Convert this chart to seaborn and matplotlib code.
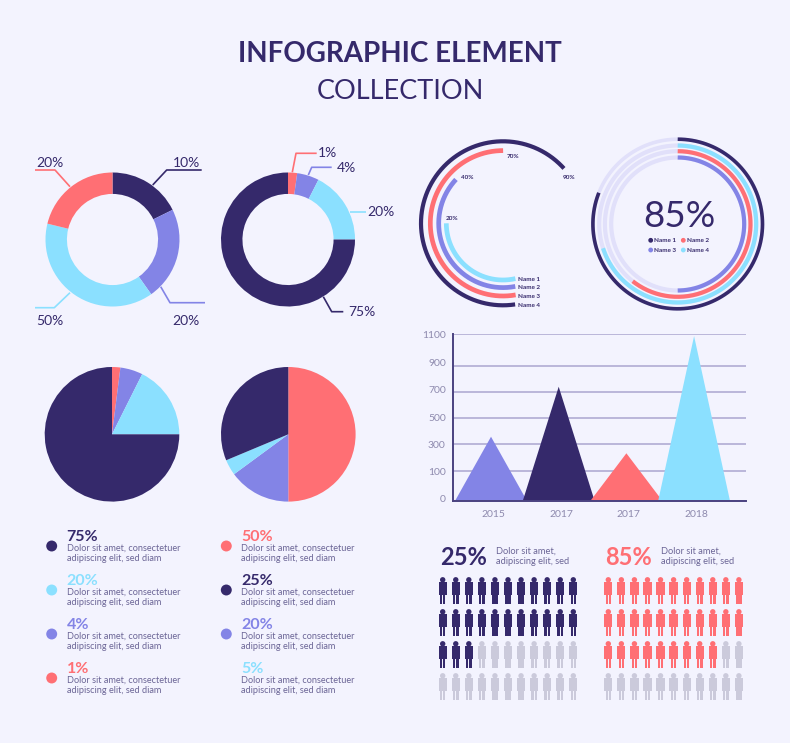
import matplotlib
matplotlib.use("Agg")
import matplotlib.pyplot as plt
from matplotlib.patches import Rectangle, Circle
from matplotlib.transforms import ScaledTranslation
import numpy as np
import pandas as pd
import seaborn as sns

W, H = 790, 743
BG = "#F3F3FE"
NAVY = "#35296B"
RED = "#FF6F74"
PURPLE = "#8384E6"
CYAN = "#8BE0FF"
LAV = "#E1E0FA"
GREY = "#CBCADB"
TXT = "#6B6596"
AXTXT = "#8E8AAE"
FONT = ["Lato", "DejaVu Sans"]

donut1_values = [17.7, 22.5, 38.6, 21.2]
donut1_colors = [NAVY, PURPLE, CYAN, RED]
donut1_labels = ["10%", "20%", "50%", "20%"]
donut2_values = [2.2, 5.3, 17.5, 75.0]
donut2_colors = [RED, PURPLE, CYAN, NAVY]
donut2_labels = ["1%", "4%", "20%", "75%"]
pie1_values = [2.0, 5.4, 17.6, 75.0]
pie1_colors = [RED, PURPLE, CYAN, NAVY]
pie2_values = [50.0, 14.9, 3.8, 31.3]
pie2_colors = [RED, PURPLE, CYAN, NAVY]

arc1_percent = [65.7, 52.8, 40.0, 28.5]
arc1_colors = [NAVY, RED, PURPLE, CYAN]
arc1_labels = ["90%", "70%", "40%", "20%"]
arc1_names = ["Name 1", "Name 2", "Name 3", "Name 4"]
arc2_percent = [81.0, 70.0, 60.6, 50.0]
arc2_colors = [NAVY, CYAN, RED, PURPLE]
legend_names = ["Name 1", "Name 2", "Name 3", "Name 4"]
legend_colors = [NAVY, RED, PURPLE, CYAN]

bar_years = ["2015", "2017", "2017", "2018"]
bar_values = [358, 738, 233, 1087]
bar_colors = [PURPLE, NAVY, RED, CYAN]
y_ticks = [0, 100, 300, 500, 700, 900, 1100]

list1_pct = ["75%", "20%", "4%", "1%"]
list1_colors = [NAVY, CYAN, PURPLE, RED]
list2_pct = ["50%", "25%", "20%", "5%"]
list2_colors = [RED, NAVY, PURPLE, CYAN]
body_lines = ["Dolor sit amet, consectetuer", "adipiscing elit, sed diam"]

people_filled = [25, 31]
people_colors = [NAVY, RED]
people_pct = ["25%", "85%"]

sns.set_theme(style="white", rc={"figure.facecolor": BG, "axes.facecolor": BG, "savefig.facecolor": BG})
plt.rcParams["font.family"] = FONT

fig = plt.figure(figsize=(W / 100, H / 100), dpi=100)

bgax = fig.add_axes([0, 0, 1, 1])
bgax.set_xlim(0, W)
bgax.set_ylim(H, 0)
bgax.axis("off")


def t(x, y, s, size, color=NAVY, weight="normal", ha="left", va="center"):
    bgax.text(x, y + size * 0.13, s, fontsize=size, color=color, fontweight=weight, ha=ha, va=va)


def px_axes(x0, y0, x1, y1):
    return fig.add_axes([x0 / W, 1 - y1 / H, (x1 - x0) / W, (y1 - y0) / H])


def pie_at(cx, cy, r, values, colors, width=None):
    ax = px_axes(cx - r, cy - r, cx + r, cy + r)
    props = {"linewidth": 0}
    if width:
        props["width"] = width
    ax.pie(values, colors=colors, startangle=90, counterclock=False, radius=1,
           wedgeprops=props)
    ax.set_xlim(-1, 1)
    ax.set_ylim(-1, 1)
    ax.patch.set_alpha(0)


def leader(pts, color):
    xs, ys = zip(*pts)
    bgax.plot(xs, ys, color=color, lw=1.2, solid_capstyle="butt")


# Title
t(400, 51.5, "INFOGRAPHIC ELEMENT", 20, NAVY, "bold", ha="center")
t(400, 88.5, "COLLECTION", 19.5, NAVY, ha="center")

# Donuts
pie_at(112.5, 239.5, 67, donut1_values, donut1_colors, width=0.32)
pie_at(288, 239.5, 67, donut2_values, donut2_colors, width=0.32)
leader([(152.7, 185), (166.7, 170), (201.7, 170)], NAVY)
leader([(160.7, 286.7), (170, 302.7), (205, 302.7)], PURPLE)
leader([(70, 292.7), (54.3, 307.7), (35, 307.7)], CYAN)
leader([(70, 186.7), (55, 170), (35, 170)], RED)
t(172.7, 162, donut1_labels[0], 10, NAVY)
t(172.7, 320, donut1_labels[1], 10, NAVY)
t(36.7, 320, donut1_labels[2], 10, NAVY)
t(36.7, 162, donut1_labels[3], 10, NAVY)
leader([(292.3, 172.3), (296, 153.3), (316.7, 153.3)], RED)
leader([(308.3, 175), (311.7, 167.3), (331.7, 167.3)], PURPLE)
leader([(350, 211.7), (365.7, 211.7)], CYAN)
leader([(323.3, 296.7), (331.7, 311.7), (343.3, 311.7)], NAVY)
t(318, 152, donut2_labels[0], 10, NAVY)
t(336.7, 167, donut2_labels[1], 10, NAVY)
t(367, 211, donut2_labels[2], 10, NAVY)
t(348, 310.7, donut2_labels[3], 10, NAVY)

# Pies
pie_at(112, 434.3, 67.3, pie1_values, pie1_colors)
pie_at(288.3, 434.3, 67.3, pie2_values, pie2_colors)


# Radial arcs
def arc_axes(cx, cy, R):
    ax = px_axes(cx - R, cy - R, cx + R, cy + R)
    ax.set_xlim(-R, R)
    ax.set_ylim(-R, R)
    ax.axis("off")
    return ax


def ring(ax, r, start_cw, frac, color, width):
    th = np.linspace(start_cw, start_cw + frac * 3.6, 240)
    ax.plot(r * np.sin(np.radians(th)), r * np.cos(np.radians(th)),
            color=color, lw=width, solid_capstyle="butt")


a1 = arc_axes(503, 223.3, 90)
a1_radii = [82, 72.7, 64.3, 56.7]
a1_widths = [3.0, 3.4, 3.4, 3.4]
a1_starts = [171.5, 170, 169, 167.4]
for r, p, c, st, w in zip(a1_radii, arc1_percent, arc1_colors, a1_starts, a1_widths):
    ring(a1, r, st, p, c, w)
for name, y in zip(arc1_names, [278.5, 287, 296, 305]):
    t(518.5, y, name, 4.6, NAVY, "bold")
t(569, 176.5, arc1_labels[0], 4.6, NAVY, "bold", ha="center")
t(513.5, 155.5, arc1_labels[1], 4.6, NAVY, "bold", ha="center")
t(467.5, 177, arc1_labels[2], 4.6, NAVY, "bold", ha="center")
t(452.5, 217.5, arc1_labels[3], 4.6, NAVY, "bold", ha="center")

a2 = arc_axes(677.7, 224, 90)
a2_radii = [84.8, 78.5, 72.8, 66.5]
a2_widths = [2.6, 3.0, 3.0, 3.0]
for r, p, c, w in zip(a2_radii, arc2_percent, arc2_colors, a2_widths):
    ring(a2, r, 0, 100, LAV, w)
    ring(a2, r, 0, p, c, w)
t(679, 213, "85%", 26.5, NAVY, ha="center")
for i, (n, c) in enumerate(zip(legend_names, legend_colors)):
    x = [650.7, 683.3][i % 2]
    y = [240.3, 250][i // 2]
    t(x + 3.5, y, n, 4.6, NAVY, "bold")

# Triangle chart: the printed axis is not linear, so the scale maps values to the drawn gridlines
grid_pos = [0.0, 89, 169, 248, 327, 405, 500]


def fwd(v):
    return np.interp(v, y_ticks, grid_pos)


def inv(v):
    return np.interp(v, grid_pos, y_ticks)


ax = px_axes(452.7, 334, 746, 500.7)
ax.patch.set_alpha(0)
ax.set_yscale("function", functions=(fwd, inv))
ax.set_ylim(0, 1100)
ax.set_xlim(-0.566, 3.767)
for i, (v, c) in enumerate(zip(bar_values, bar_colors)):
    ax.fill([i - 0.53, i, i + 0.53], [0, v, 0], color=c, lw=0, zorder=3)
ax.set_yticks(y_ticks)
ax.set_yticklabels([str(v) for v in y_ticks], fontsize=7.5, color=AXTXT)
ax.minorticks_off()
ax.set_xticks([i + 0.035 for i in range(4)])
ax.set_xticklabels(bar_years, fontsize=7.5, color=AXTXT)
ax.tick_params(axis="y", length=0, pad=5)
ax.tick_params(axis="x", length=0, pad=7)
ax.grid(axis="y", color="#ABA6D0", lw=1.1)
ax.set_axisbelow(True)
sns.despine(ax=ax, top=True, right=True)
for sp in ["left", "bottom"]:
    ax.spines[sp].set_color("#4A4280")
    ax.spines[sp].set_linewidth(1.4)
    ax.spines[sp].set_zorder(4)
label_nudge_px = [1.7, -0.7, 0, 0.3, 1.7, 3, -1]
for lab, d in zip(ax.get_yticklabels(), label_nudge_px):
    lab.set_transform(lab.get_transform() + ScaledTranslation(0, d / 100, fig.dpi_scale_trans))

# Percent lists
rows = []
for x0, bx, pcts, cols in [(66.7, 51.7, list1_pct, list1_colors), (241, 226.3, list2_pct, list2_colors)]:
    for i, (p, c) in enumerate(zip(pcts, cols)):
        y0 = 535.3 + i * 44
        t(x0, y0, p, 11.5, c, "bold")
        t(x0, y0 + 12, body_lines[0], 6.6, TXT)
        t(x0, y0 + 22.3, body_lines[1], 6.6, TXT)
        if not (bx > 200 and i == 3):
            rows.append({"x": bx, "y": y0 + 10.7, "c": c})
dots = pd.DataFrame(rows)
for i, (n, c) in enumerate(zip(legend_names, legend_colors)):
    dots.loc[len(dots)] = {"x": [650.7, 683.3][i % 2], "y": [240.3, 250][i // 2], "c": c}
big = dots["x"] < 300
sns.scatterplot(data=dots[big], x="x", y="y", hue="c", palette={c: c for c in dots["c"]},
                s=62, linewidth=0, legend=False, ax=bgax)
sns.scatterplot(data=dots[~big], x="x", y="y", hue="c", palette={c: c for c in dots["c"]},
                s=12, linewidth=0, legend=False, ax=bgax)


# People
def person(a, x, y, c):
    a.add_patch(Circle((x, y + 2.5), 2.7, color=c, lw=0))
    a.add_patch(Rectangle((x - 4.1, y + 5), 8.2, 13, color=c, lw=0))
    a.add_patch(Rectangle((x - 2.8, y + 18), 2.4, 8.7, color=c, lw=0))
    a.add_patch(Rectangle((x + 0.4, y + 18), 2.4, 8.7, color=c, lw=0))


for x0, n, c, p in zip([442.7, 608.3], people_filled, people_colors, people_pct):
    for r in range(4):
        for k in range(11):
            idx = r * 11 + k
            person(bgax, x0 + k * 13.06, 577.3 + r * 32, c if idx < n else GREY)
    t(x0 - 3, 555.5, p, 17, c, "bold")
    t(x0 + 53, 550.7, "Dolor sit amet,", 6.7, TXT)
    t(x0 + 53, 560.7, "adipiscing elit, sed", 6.7, TXT)

fig.savefig("out.png", dpi=100, facecolor=BG)
